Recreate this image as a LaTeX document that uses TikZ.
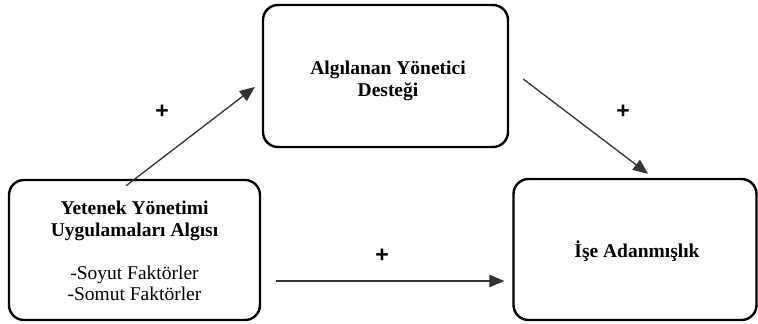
\documentclass[tikz,border=0pt]{standalone}
\usepackage{fontspec}
\setmainfont{Liberation Serif}
\newfontfamily\plusfont{Liberation Sans}
\usetikzlibrary{arrows.meta,calc}
\tikzset{
  box/.style={draw=black, line width=2.4pt, rounded corners=15pt, inner sep=0pt},
  conn/.style={draw=black!80, line width=1.3pt, -{Triangle[length=15pt,width=12.5pt]}},
  plus/.style={font=\plusfont\bfseries\fontsize{23}{23}\selectfont, inner sep=0pt},
  txt/.style={align=center, inner sep=0pt}
}
\begin{document}
\begin{tikzpicture}[x=1pt,y=-1pt]
\useasboundingbox (0,0) rectangle (758,324);
% boxes
\node[box, minimum width=251pt, minimum height=140pt] (A) at (134.5,250) {};
\node[box, minimum width=245pt, minimum height=142pt] (B) at (385.5,76) {};
\node[box, minimum width=243pt, minimum height=141pt] (C) at (635,249.5) {};
% texts
\node[txt, font=\fontsize{19.5}{21.5}\selectfont] (At) at (134.5,251)
  {\textbf{Yetenek Yönetimi}\\\textbf{Uygulamaları Algısı}\\[21.5pt]-Soyut Faktörler\\-Somut Faktörler};
\node[txt, font=\bfseries\fontsize{19.5}{22}\selectfont] (Bt) at (388,81)
  {Algılanan Yönetici\\Desteği};
\node[txt, font=\bfseries\fontsize{19.5}{22}\selectfont] (Ct) at (637,251)
  {İşe Adanmışlık};
% connector end points
\coordinate (a1) at ($(A.north)+(-8.5,7)$);
\coordinate (b1) at ($(B.west)+(-7,11)$);
\coordinate (b2) at ($(B.east)+(14,3)$);
\coordinate (c2) at ($(C.north)+(13,-4)$);
\coordinate (a3) at ($(A.east)+(15,31)$);
\coordinate (c3) at ($(C.west)+(-8,31.5)$);
% connectors
\draw[conn] (a1) -- (b1);
\draw[conn] (b2) -- (c2);
\draw[conn] (a3) -- (c3);
% labels
\node[plus] (p1) at (162,112) {+};
\node[plus] (p2) at (623,112) {+};
\node[plus] (p3) at (382,256) {+};
\end{tikzpicture}
\end{document}
